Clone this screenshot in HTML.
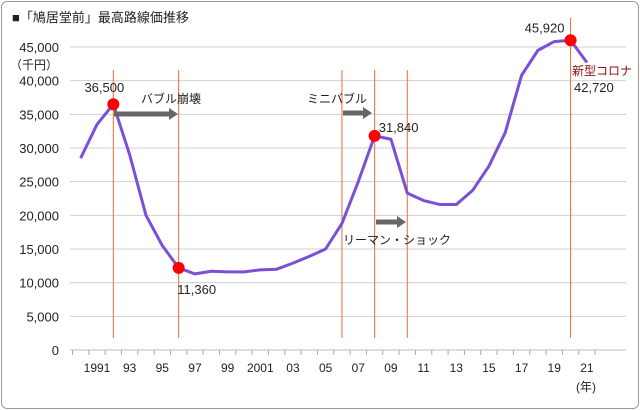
<!DOCTYPE html>
<html><head><meta charset="utf-8"><style>
body{margin:0;width:640px;height:410px;background:#fff;font-family:"Liberation Sans","Noto Sans CJK JP",sans-serif;}
#frame{position:absolute;left:1px;top:1px;width:636px;height:406px;border:1px solid #9a9a9a;border-radius:6px;}
</style></head><body>
<div id="frame"></div>
<svg id="chart" width="640" height="410" style="position:absolute;left:0;top:0">
<text x="12" y="22" font-size="13" fill="#222">■「鳩居堂前」最高路線価推移</text>
<g id="grid"></g><g id="vlines"></g><g id="series"></g><g id="annot"></g>
</svg>
<script>
const years=[1990,1991,1992,1993,1994,1995,1996,1997,1998,1999,2000,2001,2002,2003,2004,2005,2006,2007,2008,2009,2010,2011,2012,2013,2014,2015,2016,2017,2018,2019,2020,2021];
const prices=[28500,33500,36500,29000,20000,15500,12200,11300,11700,11600,11600,11900,12000,12900,13900,15000,18800,25000,31800,31300,23300,22200,21600,21600,23700,27300,32300,40800,44500,45800,46000,42700];
const yTicks=[0,5000,10000,15000,20000,25000,30000,35000,40000,45000];
const yTickLabels=["0","5,000","10,000","15,000","20,000","25,000","30,000","35,000","40,000","45,000"];
const xLabelYears=[1991,1993,1995,1997,1999,2001,2003,2005,2007,2009,2011,2013,2015,2017,2019,2021];
const xLabels=["1991","93","95","97","99","2001","03","05","07","09","11","13","15","17","19","21"];
const markerYears=[1992,1996,2008,2020];
const markerLabels=["36,500","11,360","31,840","45,920"];
const eventYears=[1992,1996,2006,2008,2010,2020];
const NS="http://www.w3.org/2000/svg";
const X=y=>97+(y-1991)*16.33;
const Y=v=>350-v*303/45000;
function mk(tag,attrs,parent,text){const e=document.createElementNS(NS,tag);for(const k in attrs)e.setAttribute(k,attrs[k]);if(text!==undefined)e.textContent=text;parent.appendChild(e);return e;}
const grid=document.getElementById('grid');
yTicks.forEach((t,i)=>{
  const l=mk('line',{x1:70,x2:626,y1:Y(t),y2:Y(t),stroke:i===0?'#bbb':'#d0d0d0','stroke-width':1},grid);
  
  
  const tx=mk('text',{x:59,y:Y(t)+5,'text-anchor':'end','font-size':13,fill:'#222'},grid,yTickLabels[i]);
  
  
});
const unit=mk('text',{x:34,y:69,'text-anchor':'middle','font-size':12,fill:'#222'},grid,'（千円）');


for(let y=1989.5;y<=2021.6;y+=1){
  const t=mk('line',{x1:X(y),x2:X(y),y1:350,y2:355,stroke:'#aaa'},grid);
  
  
}
xLabelYears.forEach((yr,i)=>{
  const t=mk('text',{x:X(yr),y:372,'text-anchor':'middle','font-size':12,fill:'#222'},grid,xLabels[i]);
  
  
});
const yu=mk('text',{x:586,y:391,'text-anchor':'middle','font-size':12,fill:'#222'},grid,'(年)');


const vl=document.getElementById('vlines');
eventYears.forEach(yr=>{
  const l=mk('line',{x1:X(yr),x2:X(yr),y1:yr===2020?18:70,y2:338,stroke:'#f06a3a','stroke-width':1},vl);
  
  
});
const s=document.getElementById('series');
const pts=years.map((y,i)=>X(y)+','+Y(prices[i])).join(' ');
const pl=mk('polyline',{points:pts,fill:'none',stroke:'#7b4fd8','stroke-width':3,'stroke-linejoin':'round'},s);


const lblPos=[[-9,-12],[18,26],[24,-4],[-26,-8]];
markerYears.forEach((yr,i)=>{
  const v=prices[years.indexOf(yr)];
  const c=mk('circle',{cx:X(yr),cy:Y(v),r:6,fill:'#f00'},s);
  
  
  const t=mk('text',{x:X(yr)+lblPos[i][0],y:Y(v)+lblPos[i][1],'text-anchor':'middle','font-size':13,fill:'#222'},s,markerLabels[i]);
  
  
});
const a=document.getElementById('annot');
function arrow(x1,x2,y,name){const g=mk('g',{},a);
  mk('line',{x1:x1,x2:x2-8,y1:y,y2:y,stroke:'#666','stroke-width':5},g);
  mk('polygon',{points:`${x2-9},${y-6} ${x2},${y} ${x2-9},${y+6}`,fill:'#666'},g);}
arrow(114,178,114,'bubble-arrow');
arrow(343,372,113,'mini-bubble-arrow');
arrow(376,406,222,'lehman-arrow');
[[141,103,'バブル崩壊','bubble-collapse-label'],[307,103,'ミニバブル','mini-bubble-label'],[343,244,'リーマン・ショック','lehman-shock-label']].forEach(d=>{
  const t=mk('text',{x:d[0],y:d[1],'font-size':12,fill:'#222'},a,d[2]);
  
  
});
const c1=mk('text',{x:572,y:75,'font-size':12,fill:'#8b1010'},a,'新型コロナ');


const c2=mk('text',{x:574,y:92,'font-size':13,fill:'#222'},a,'42,720');


</script>
</body></html>
